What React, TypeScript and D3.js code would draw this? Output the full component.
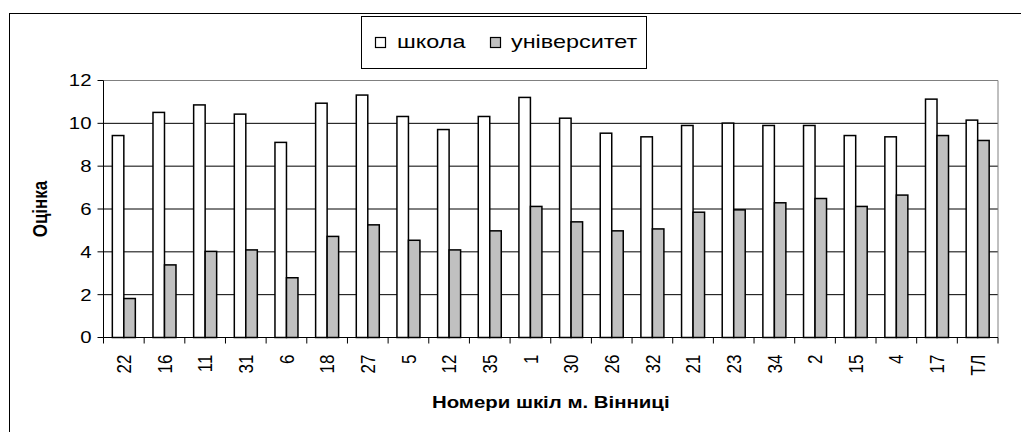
import React from "react";
import * as d3 from "d3";

const categories = ["22","16","11","31","6","18","27","5","12","35","1","30","26","32","21","23","34","2","15","4","17","ТЛ"];
const school = [9.43,10.51,10.86,10.43,9.11,10.94,11.32,10.32,9.71,10.32,11.21,10.24,9.54,9.37,9.9,10.01,9.9,9.9,9.43,9.37,11.13,10.15];
const university = [1.82,3.39,4.02,4.09,2.79,4.72,5.26,4.54,4.09,4.98,6.12,5.4,4.98,5.07,5.85,5.96,6.29,6.49,6.12,6.65,9.43,9.2];
const seriesNames = ["школа", "університет"];
const seriesFills = ["#ffffff", "#c0c0c0"];
const yTicks = [0, 2, 4, 6, 8, 10, 12];
const yTitle = "Оцінка";
const xTitle = "Номери шкіл м. Вінниці";

const W = 1021, H = 432;
const L = 103.5, R = 998, T = 80.5, B = 337.5;
const SX = 1.2;
const FONT = "'Liberation Sans', Arial, sans-serif";

export default function App() {
  const x0 = d3.scaleBand<string>().domain(categories).range([L, R]).paddingInner(0).paddingOuter(0);
  const groupW = 23;
  const x1 = d3.scaleBand<string>().domain(seriesNames).range([0, groupW]);
  const y = d3.scaleLinear().domain([0, 12]).range([B, T]);
  const data = [school, university];
  const off = (x0.bandwidth() - groupW) / 2;
  const boundaries = categories.map((c) => x0(c) as number).concat([R]);

  return (
    <svg width={W} height={H} style={{ position: "absolute", left: 0, top: 0, background: "#fff" }} fontFamily={FONT}>
      <rect x={9.5} y={13.5} width={1100} height={500} fill="none" stroke="#000" strokeWidth={1} />
      {/* gridlines */}
      {yTicks.filter((t) => t > 0).map((t) => (
        <line key={"g" + t} x1={L} x2={R} y1={y(t)} y2={y(t)} stroke={t === 12 ? "#808080" : "#000"} strokeWidth={1} />
      ))}
      {/* plot border right */}
      <line x1={R} x2={R} y1={T} y2={B} stroke="#808080" strokeWidth={1} />
      {/* bars */}
      {categories.map((c, i) => (
        <g key={"b" + c}>
          {seriesNames.map((s, si) => {
            const v = data[si][i];
            const bx = (x0(c) as number) + off + (x1(s) as number);
            return (
              <rect key={s} x={bx} y={y(v)} width={x1.bandwidth()} height={y(0) - y(v)} fill={seriesFills[si]} stroke="#000" strokeWidth={1.5} />
            );
          })}
        </g>
      ))}
      {/* y axis */}
      <line x1={L} x2={L} y1={T} y2={B} stroke="#000" strokeWidth={1} />
      {yTicks.map((t) => (
        <g key={"yt" + t}>
          <line x1={L - 6} x2={L} y1={y(t)} y2={y(t)} stroke="#000" strokeWidth={1} />
          <text transform={`translate(${L - 12},${y(t)}) scale(${SX},1)`} textAnchor="end" dy="0.35em" fontSize={17} fill="#000">{t}</text>
        </g>
      ))}
      {/* x axis */}
      <line x1={L} x2={R} y1={B} y2={B} stroke="#000" strokeWidth={1} />
      {boundaries.map((bx, i) => (
        <line key={"xt" + i} x1={bx} x2={bx} y1={B} y2={B + 6} stroke="#000" strokeWidth={1} />
      ))}
      {categories.map((c) => (
        <text key={"xl" + c} transform={`translate(${(x0(c) as number) + x0.bandwidth() / 2},${B + 17}) scale(${SX},1) rotate(-90)`} textAnchor="end" dy="0.35em" fontSize={17} fill="#000">{c}</text>
      ))}
      {/* titles */}
      <text transform={`translate(${(L + R) / 2},408) scale(${SX},1)`} textAnchor="middle" fontSize={17} fontWeight="bold" fill="#000">{xTitle}</text>
      <text transform={`translate(40,${(T + B) / 2}) scale(${SX},1) rotate(-90)`} textAnchor="middle" dy="0.35em" fontSize={17} fontWeight="bold" fill="#000">{yTitle}</text>
      {/* legend */}
      <rect x={361.5} y={16.5} width={285} height={52} fill="#fff" stroke="#000" strokeWidth={1} />
      <rect x={375.5} y={37.5} width={10} height={10} fill={seriesFills[0]} stroke="#000" strokeWidth={1.2} />
      <text transform={`translate(397,48) scale(1.3,1)`} fontSize={18} fill="#000">{seriesNames[0]}</text>
      <rect x={490.5} y={37.5} width={10} height={10} fill={seriesFills[1]} stroke="#000" strokeWidth={1.2} />
      <text transform={`translate(511,48) scale(1.3,1)`} fontSize={18} fill="#000">{seriesNames[1]}</text>
    </svg>
  );
}
